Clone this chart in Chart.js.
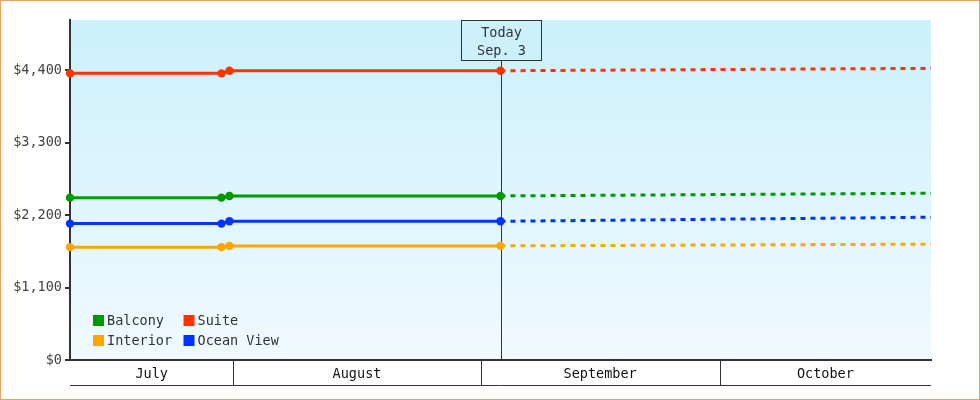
<!DOCTYPE html>
<html>
<head>
<meta charset="utf-8">
<script src="https://cdn.jsdelivr.net/npm/chart.js@4.4.0/dist/chart.umd.min.js"></script>
<style>
  html, body { margin: 0; padding: 0; background: #fff; }
  canvas { display: block; }
</style>
</head>
<body>
<canvas id="chart" width="980" height="400"></canvas>
<script>
// x values are days counted from July 1 00:00, points sit at noon
const pointDays = [10.5, 29.5, 30.5, 64.5, 118.5];
const todayDay = 64.5;
const todayLabel = ['Today', 'Sep. 3'];

const suite = [4350, 4350, 4390, 4390, 4426];
const balcony = [2464, 2464, 2490, 2490, 2531];
const oceanView = [2070, 2070, 2106, 2105, 2167];
const interior = [1713, 1713, 1732, 1732, 1758];

const months = ['July', 'August', 'September', 'October'];
const monthStarts = [0, 31, 62, 92, 123];

const yTicks = [0, 1100, 2200, 3300, 4400];
const legendOrder = ['Balcony', 'Suite', 'Interior', 'Ocean View'];

const FONT = 'DejaVu Sans Mono';
const FONT_SIZE = 13.5;
const INK = '#333';
const BG_TOP = '#ccf0fc';
const BG_BOTTOM = '#f0faff';

const toPoints = vals => vals.map((v, i) => ({ x: pointDays[i], y: v }));
const cssFont = () => FONT_SIZE + 'px "' + FONT + '"';

function series(label, vals, color) {
  return {
    label: label,
    data: toPoints(vals),
    borderColor: color,
    backgroundColor: color,
    borderWidth: 3,
    tension: 0,
    clip: false,
    pointRadius: ctx => (ctx.raw && ctx.raw.x > todayDay ? 0 : 4.2),
    pointBorderWidth: 0,
    segment: {
      // forecast part after today is dashed
      borderDash: ctx => (ctx.p0.parsed.x >= todayDay ? [5, 5] : undefined)
    }
  };
}

// plot background gradient + outer frame
const backdrop = {
  id: 'backdrop',
  beforeDraw(chart) {
    const { ctx, chartArea: a } = chart;
    const g = ctx.createLinearGradient(0, a.top, 0, a.bottom);
    g.addColorStop(0, BG_TOP);
    g.addColorStop(1, BG_BOTTOM);
    ctx.save();
    ctx.fillStyle = g;
    ctx.fillRect(a.left, a.top, a.right - a.left, a.bottom - a.top);
    ctx.restore();
  },
  afterDraw(chart) {
    const ctx = chart.ctx;
    ctx.save();
    ctx.strokeStyle = '#eca560';
    ctx.lineWidth = 1;
    ctx.strokeRect(0.5, 0.5, chart.width - 1, chart.height - 1);
    ctx.restore();
  }
};

// "Today" marker line and box
const todayMarker = {
  id: 'todayMarker',
  beforeDatasetsDraw(chart) {
    const { ctx, chartArea: a, scales: { x } } = chart;
    const px = Math.round(x.getPixelForValue(todayDay)) + 0.5;
    const boxW = 80, boxH = 40;
    const top = a.top + 0.5;
    ctx.save();
    ctx.strokeStyle = INK;
    ctx.lineWidth = 1;
    ctx.beginPath();
    ctx.moveTo(px, top + boxH);
    ctx.lineTo(px, a.bottom);
    ctx.stroke();
    ctx.fillStyle = BG_TOP;
    ctx.fillRect(px - boxW / 2, top, boxW, boxH);
    ctx.strokeRect(px - boxW / 2, top, boxW, boxH);
    ctx.fillStyle = INK;
    ctx.font = cssFont();
    ctx.textAlign = 'center';
    ctx.textBaseline = 'middle';
    ctx.fillText(todayLabel[0], px, top + 13);
    ctx.fillText(todayLabel[1], px, top + 31);
    ctx.restore();
  }
};

// month band under the x axis
const monthBand = {
  id: 'monthBand',
  afterDraw(chart) {
    const { ctx, chartArea: a, scales: { x } } = chart;
    const y0 = a.bottom, y1 = a.bottom + 25;
    ctx.save();
    ctx.strokeStyle = INK;
    ctx.lineWidth = 1;
    ctx.beginPath();
    ctx.moveTo(a.left, y1 + 0.5);
    ctx.lineTo(a.right, y1 + 0.5);
    ctx.stroke();
    ctx.fillStyle = '#111';
    ctx.font = cssFont();
    ctx.textAlign = 'center';
    ctx.textBaseline = 'middle';
    months.forEach((m, i) => {
      const s = Math.max(monthStarts[i], x.min);
      const e = Math.min(monthStarts[i + 1], x.max);
      if (e <= s) return;
      const ps = x.getPixelForValue(s), pe = x.getPixelForValue(e);
      if (monthStarts[i] > x.min) {
        const sx = Math.round(ps) + 0.5;
        ctx.beginPath();
        ctx.moveTo(sx, y0);
        ctx.lineTo(sx, y1);
        ctx.stroke();
      }
      ctx.fillText(m, (ps + pe) / 2, y0 + 14);
    });
    ctx.restore();
  }
};

// legend inside the plot, bottom left, two columns
const innerLegend = {
  id: 'innerLegend',
  afterDatasetsDraw(chart) {
    const { ctx, chartArea: a } = chart;
    ctx.save();
    ctx.font = cssFont();
    ctx.textAlign = 'left';
    ctx.textBaseline = 'middle';
    legendOrder.forEach((name, i) => {
      const ds = chart.data.datasets.find(d => d.label === name);
      const col = i % 2, row = Math.floor(i / 2);
      const sx = a.left + 23 + col * 90.5;
      const sy = a.bottom - 45 + row * 20;
      ctx.fillStyle = ds.borderColor;
      ctx.fillRect(sx, sy, 11, 11);
      ctx.fillStyle = INK;
      ctx.fillText(name, sx + 14, sy + 6.5);
    });
    ctx.restore();
  }
};

new Chart(document.getElementById('chart'), {
  type: 'line',
  data: {
    datasets: [
      series('Suite', suite, '#ff3300'),
      series('Balcony', balcony, '#009900'),
      series('Ocean View', oceanView, '#0033ff'),
      series('Interior', interior, '#ffa500')
    ]
  },
  options: {
    responsive: false,
    animation: false,
    devicePixelRatio: 1,
    events: [],
    layout: { padding: { top: 20, right: 49, left: 0, bottom: 0 } },
    plugins: {
      legend: { display: false },
      tooltip: { enabled: false }
    },
    scales: {
      x: {
        type: 'linear',
        min: pointDays[0],
        max: pointDays[pointDays.length - 1],
        afterFit: s => { s.height = 40; },
        border: { display: true, color: INK, width: 2 },
        grid: { display: false },
        ticks: { display: false }
      },
      y: {
        min: 0,
        max: 5160,
        afterBuildTicks: s => { s.ticks = yTicks.map(v => ({ value: v })); },
        afterFit: s => { s.width = 70; },
        border: { display: true, color: INK, width: 2 },
        grid: { drawOnChartArea: false, drawTicks: true, tickLength: 5, color: INK, lineWidth: 2 },
        ticks: {
          padding: 3,
          color: '#444',
          font: { family: FONT, size: FONT_SIZE },
          callback: v => '$' + v.toLocaleString('en-US')
        }
      }
    }
  },
  plugins: [backdrop, todayMarker, monthBand, innerLegend]
});
</script>
</body>
</html>
